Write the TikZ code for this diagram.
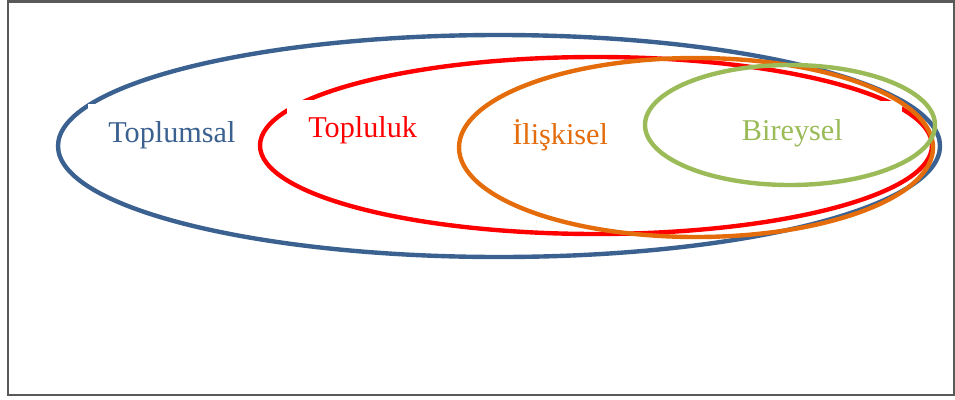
\documentclass[tikz,border=0pt]{standalone}
\usepackage{fontspec}
\setmainfont{Liberation Serif}
\definecolor{toplumsalc}{HTML}{3A6190}
\definecolor{toplulukc}{HTML}{FF0000}
\definecolor{iliskiselc}{HTML}{E46C0A}
\definecolor{bireyselc}{HTML}{9BBB59}
\begin{document}
\begin{tikzpicture}[x=0.02cm,y=-0.02cm]

\tikzset{ring/.style = {line width=2.5pt}}
\tikzset{lbl/.style = {fill=white, inner ysep=0pt, text height=0.76cm, text depth=0.4cm, font=\fontsize{17.2}{20}\selectfont}}
\useasboundingbox (0,0) rectangle (955,399);
%frame
\draw[line width=1.3pt, black!65] (8,1.5) rectangle (954,395);
%ellipses and labels
\draw[ring, toplumsalc] (499,146) ellipse [x radius=441, y radius=111];
\node[lbl, anchor=north west, inner xsep=0.4cm, text=toplumsalc] (toplumsal) at (88,104) {Toplumsal};
\draw[ring, toplulukc] (596,145.5) ellipse [x radius=336, y radius=88.5];
\node[lbl, anchor=north west, inner xsep=0.42cm, text height=0.74cm, text=toplulukc] (topluluk) at (287,100) {Topluluk};
\node[lbl, anchor=north east, inner xsep=1.18cm, text height=0.78cm, text=bireyselc] (bireysel) at (902,101) {Bireysel};
\draw[ring, iliskiselc] (696,147.5) ellipse [x radius=237, y radius=89.5];
\node[lbl, anchor=north west, inner xsep=0.4cm, text=iliskiselc] (iliskisel) at (492,106) {İlişkisel};
\draw[ring, bireyselc] (790,125) ellipse [x radius=145, y radius=60];

\end{tikzpicture}
\end{document}
